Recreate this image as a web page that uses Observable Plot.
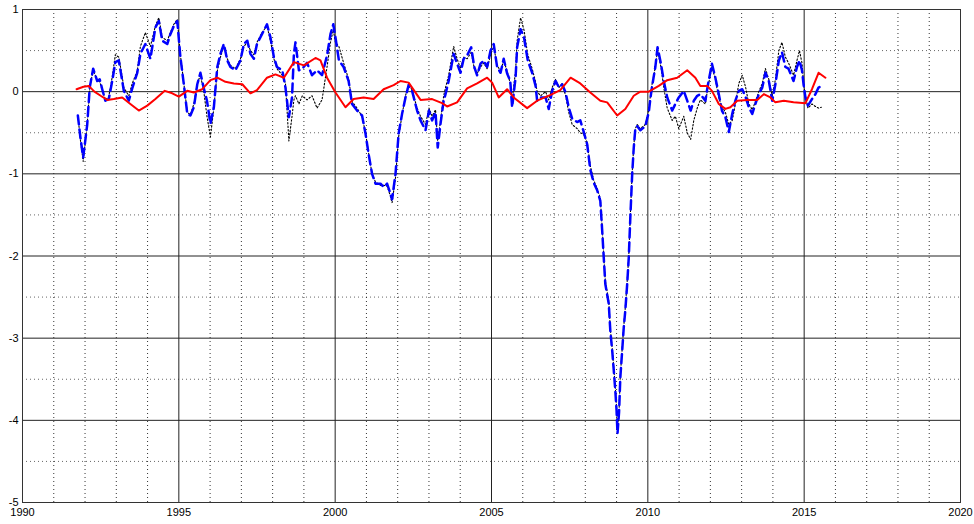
<!DOCTYPE html>
<html>
<head>
<meta charset="utf-8">
<script src="https://cdn.jsdelivr.net/npm/d3@7"></script>
<script src="https://cdn.jsdelivr.net/npm/@observablehq/plot@0.6"></script>
<style>
  html, body { margin: 0; padding: 0; background: #fff; }
  #chart svg { display: block; }
</style>
</head>
<body>
<div id="chart"></div>
<script>
// ---- Data (decimal year, value) ----
const redSeries = [[1991.73,0.03],[1991.95,0.06],[1992.12,0.07],[1992.3,0.0],[1992.5,-0.05],[1992.71,-0.10],[1992.92,-0.09],[1993.19,-0.07],[1993.45,-0.15],[1993.72,-0.23],[1993.99,-0.17],[1994.25,-0.09],[1994.55,0.01],[1994.79,-0.02],[1995.0,-0.06],[1995.27,0.01],[1995.48,-0.01],[1995.75,0.03],[1996.01,0.14],[1996.23,0.17],[1996.49,0.12],[1996.76,0.10],[1997.03,0.09],[1997.29,-0.02],[1997.5,0.02],[1997.82,0.17],[1998.09,0.21],[1998.36,0.17],[1998.68,0.36],[1999.0,0.32],[1999.37,0.41],[1999.53,0.38],[1999.74,0.17],[2000.01,-0.01],[2000.33,-0.19],[2000.59,-0.09],[2000.91,-0.07],[2001.23,-0.09],[2001.55,0.03],[2001.87,0.08],[2002.09,0.13],[2002.35,0.11],[2002.73,-0.10],[2003.1,-0.09],[2003.42,-0.14],[2003.58,-0.18],[2003.9,-0.13],[2004.22,0.04],[2004.54,0.10],[2004.86,0.17],[2005.02,0.11],[2005.23,-0.07],[2005.5,0.03],[2005.71,-0.07],[2006.14,-0.20],[2006.46,-0.11],[2006.89,-0.04],[2007.2,0.02],[2007.53,0.17],[2007.84,0.10],[2008.16,-0.01],[2008.48,-0.11],[2008.7,-0.13],[2009.02,-0.29],[2009.28,-0.21],[2009.55,-0.05],[2009.76,0.0],[2010.03,0.0],[2010.35,0.07],[2010.62,0.14],[2010.94,0.17],[2011.26,0.26],[2011.52,0.17],[2011.68,0.07],[2011.9,0.07],[2012.05,0.01],[2012.27,-0.15],[2012.48,-0.21],[2012.64,-0.19],[2012.86,-0.11],[2013.18,-0.10],[2013.5,-0.10],[2013.71,-0.03],[2013.92,-0.07],[2014.08,-0.13],[2014.35,-0.11],[2014.66,-0.13],[2015.04,-0.14],[2015.25,0.03],[2015.46,0.23],[2015.68,0.17]];

const blueSeries = [[1991.77,-0.29],[1991.85,-0.55],[1991.94,-0.80],[1992.0,-0.62],[1992.07,-0.40],[1992.15,0.05],[1992.26,0.28],[1992.39,0.13],[1992.47,0.15],[1992.55,0.03],[1992.65,-0.11],[1992.76,-0.09],[1992.87,0.13],[1992.97,0.36],[1993.08,0.38],[1993.19,0.13],[1993.24,0.01],[1993.4,-0.11],[1993.51,0.04],[1993.67,0.23],[1993.77,0.46],[1993.93,0.58],[1994.09,0.40],[1994.25,0.78],[1994.36,0.86],[1994.47,0.62],[1994.63,0.58],[1994.73,0.70],[1994.84,0.80],[1994.95,0.86],[1995.05,0.42],[1995.16,0.09],[1995.27,-0.27],[1995.37,-0.29],[1995.48,-0.19],[1995.59,0.09],[1995.69,0.23],[1995.8,0.04],[1995.9,-0.11],[1996.01,-0.39],[1996.12,-0.19],[1996.23,0.30],[1996.33,0.46],[1996.44,0.58],[1996.55,0.38],[1996.65,0.30],[1996.81,0.26],[1996.97,0.38],[1997.08,0.58],[1997.19,0.62],[1997.29,0.46],[1997.40,0.40],[1997.5,0.58],[1997.66,0.70],[1997.82,0.82],[1997.93,0.66],[1998.04,0.42],[1998.14,0.30],[1998.31,0.26],[1998.41,0.05],[1998.52,-0.31],[1998.62,-0.07],[1998.68,0.46],[1998.73,0.60],[1998.84,0.26],[1998.95,0.28],[1999.1,0.35],[1999.26,0.20],[1999.42,0.26],[1999.58,0.20],[1999.74,0.44],[1999.85,0.70],[1999.94,0.82],[2000.01,0.66],[2000.12,0.38],[2000.27,0.30],[2000.43,0.13],[2000.54,-0.15],[2000.7,-0.23],[2000.86,-0.29],[2000.97,-0.51],[2001.07,-0.76],[2001.18,-1.0],[2001.29,-1.12],[2001.45,-1.12],[2001.55,-1.16],[2001.66,-1.12],[2001.75,-1.22],[2001.82,-1.31],[2001.93,-1.0],[2002.03,-0.51],[2002.14,-0.27],[2002.25,-0.07],[2002.35,0.08],[2002.46,0.01],[2002.62,-0.23],[2002.73,-0.35],[2002.89,-0.47],[2003.0,-0.23],[2003.1,-0.35],[2003.21,-0.25],[2003.28,-0.68],[2003.37,-0.39],[2003.47,-0.11],[2003.53,-0.03],[2003.63,0.13],[2003.79,0.46],[2003.9,0.34],[2004.01,0.23],[2004.11,0.40],[2004.22,0.44],[2004.35,0.54],[2004.45,0.30],[2004.54,0.20],[2004.65,0.34],[2004.75,0.38],[2004.86,0.30],[2004.97,0.50],[2005.07,0.58],[2005.18,0.30],[2005.29,0.23],[2005.39,0.40],[2005.5,0.22],[2005.6,0.13],[2005.66,-0.19],[2005.77,0.17],[2005.82,0.54],[2005.93,0.76],[2006.04,0.66],[2006.16,0.38],[2006.3,0.23],[2006.41,0.07],[2006.46,-0.11],[2006.57,-0.07],[2006.73,-0.07],[2006.83,-0.21],[2006.94,0.01],[2007.05,0.13],[2007.16,0.05],[2007.26,0.09],[2007.37,-0.01],[2007.47,-0.19],[2007.58,-0.33],[2007.74,-0.37],[2007.84,-0.35],[2007.95,-0.49],[2008.06,-0.64],[2008.16,-0.95],[2008.27,-1.11],[2008.38,-1.20],[2008.48,-1.33],[2008.54,-1.69],[2008.59,-2.02],[2008.64,-2.34],[2008.75,-2.58],[2008.8,-2.91],[2008.86,-3.15],[2008.91,-3.39],[2008.96,-3.64],[2009.0,-3.88],[2009.03,-4.16],[2009.08,-3.9],[2009.12,-3.48],[2009.18,-3.15],[2009.23,-2.87],[2009.28,-2.66],[2009.34,-2.34],[2009.39,-2.02],[2009.44,-1.53],[2009.5,-1.0],[2009.55,-0.68],[2009.6,-0.45],[2009.66,-0.42],[2009.76,-0.47],[2009.92,-0.42],[2010.03,-0.25],[2010.08,-0.09],[2010.13,0.05],[2010.24,0.30],[2010.31,0.54],[2010.42,0.34],[2010.51,0.13],[2010.62,-0.07],[2010.78,-0.23],[2010.88,-0.15],[2010.99,-0.07],[2011.15,0.01],[2011.26,-0.11],[2011.37,-0.23],[2011.47,-0.11],[2011.58,-0.05],[2011.68,-0.03],[2011.84,-0.11],[2011.92,0.08],[2012.05,0.34],[2012.16,0.17],[2012.27,-0.03],[2012.37,-0.23],[2012.48,-0.31],[2012.59,-0.49],[2012.7,-0.27],[2012.8,-0.11],[2012.91,0.01],[2013.02,0.03],[2013.13,-0.07],[2013.23,-0.19],[2013.34,-0.27],[2013.44,-0.15],[2013.55,-0.03],[2013.66,0.05],[2013.76,0.23],[2013.87,0.13],[2013.98,-0.11],[2014.08,0.09],[2014.19,0.38],[2014.29,0.48],[2014.4,0.30],[2014.5,0.28],[2014.66,0.13],[2014.77,0.30],[2014.85,0.38],[2014.93,0.26],[2014.98,0.09],[2015.04,-0.07],[2015.12,-0.17],[2015.25,-0.09],[2015.36,-0.03],[2015.46,0.05],[2015.57,0.07]];

const dottedSeries = [[1991.77,-0.29],[1991.85,-0.58],[1991.94,-0.85],[1992.0,-0.64],[1992.07,-0.40],[1992.15,0.05],[1992.26,0.26],[1992.39,0.14],[1992.47,0.12],[1992.55,0.02],[1992.65,-0.10],[1992.76,-0.06],[1992.87,0.18],[1992.97,0.45],[1993.08,0.42],[1993.19,0.18],[1993.24,0.05],[1993.4,-0.05],[1993.51,0.10],[1993.67,0.25],[1993.77,0.55],[1993.93,0.72],[1994.09,0.55],[1994.25,0.80],[1994.36,0.90],[1994.47,0.66],[1994.63,0.62],[1994.73,0.72],[1994.84,0.82],[1994.95,0.88],[1995.05,0.45],[1995.16,0.10],[1995.27,-0.25],[1995.37,-0.28],[1995.48,-0.15],[1995.59,0.10],[1995.69,0.20],[1995.8,0.0],[1995.9,-0.30],[1996.01,-0.55],[1996.12,-0.20],[1996.23,0.25],[1996.33,0.42],[1996.44,0.55],[1996.55,0.40],[1996.65,0.32],[1996.81,0.28],[1996.97,0.40],[1997.08,0.55],[1997.19,0.60],[1997.29,0.50],[1997.40,0.45],[1997.5,0.60],[1997.66,0.72],[1997.82,0.80],[1997.93,0.62],[1998.04,0.40],[1998.14,0.28],[1998.31,0.20],[1998.41,0.10],[1998.52,-0.60],[1998.62,-0.30],[1998.68,-0.10],[1998.73,-0.05],[1998.84,-0.15],[1998.95,-0.05],[1999.1,-0.10],[1999.26,-0.05],[1999.42,-0.20],[1999.58,-0.10],[1999.74,0.30],[1999.85,0.60],[1999.94,0.75],[2000.01,0.60],[2000.12,0.55],[2000.27,0.35],[2000.43,0.15],[2000.54,-0.12],[2000.7,-0.20],[2000.86,-0.30],[2000.97,-0.50],[2001.07,-0.75],[2001.18,-1.0],[2001.29,-1.10],[2001.45,-1.14],[2001.55,-1.14],[2001.66,-1.15],[2001.75,-1.25],[2001.82,-1.35],[2001.93,-1.05],[2002.03,-0.55],[2002.14,-0.28],[2002.25,-0.05],[2002.35,0.10],[2002.46,0.02],[2002.62,-0.20],[2002.73,-0.30],[2002.89,-0.40],[2003.0,-0.20],[2003.1,-0.30],[2003.21,-0.22],[2003.28,-0.60],[2003.37,-0.35],[2003.47,-0.05],[2003.53,0.05],[2003.63,0.20],[2003.79,0.55],[2003.9,0.40],[2004.01,0.28],[2004.11,0.42],[2004.22,0.40],[2004.35,0.48],[2004.45,0.28],[2004.54,0.22],[2004.65,0.30],[2004.75,0.35],[2004.86,0.28],[2004.97,0.45],[2005.07,0.55],[2005.18,0.32],[2005.29,0.25],[2005.39,0.38],[2005.5,0.25],[2005.6,0.10],[2005.66,-0.10],[2005.77,0.25],[2005.82,0.62],[2005.93,0.90],[2006.04,0.75],[2006.16,0.45],[2006.3,0.28],[2006.41,0.12],[2006.46,0.0],[2006.57,-0.05],[2006.73,0.0],[2006.83,-0.10],[2006.94,0.05],[2007.05,0.15],[2007.16,0.05],[2007.26,0.10],[2007.37,-0.05],[2007.47,-0.25],[2007.58,-0.40],[2007.74,-0.45],[2007.84,-0.50],[2007.95,-0.52],[2008.06,-0.62],[2008.16,-0.90],[2008.27,-1.08],[2008.38,-1.18],[2008.48,-1.30],[2008.54,-1.65],[2008.59,-2.0],[2008.64,-2.30],[2008.75,-2.55],[2008.8,-2.88],[2008.86,-3.12],[2008.91,-3.36],[2008.96,-3.60],[2009.0,-3.85],[2009.03,-4.12],[2009.08,-3.88],[2009.12,-3.45],[2009.18,-3.12],[2009.23,-2.85],[2009.28,-2.62],[2009.34,-2.30],[2009.39,-2.0],[2009.44,-1.50],[2009.5,-0.98],[2009.55,-0.66],[2009.6,-0.45],[2009.66,-0.40],[2009.76,-0.45],[2009.92,-0.40],[2010.03,-0.22],[2010.08,-0.05],[2010.13,0.08],[2010.24,0.30],[2010.31,0.50],[2010.42,0.30],[2010.51,0.05],[2010.62,-0.20],[2010.78,-0.35],[2010.88,-0.30],[2010.99,-0.45],[2011.15,-0.30],[2011.26,-0.50],[2011.37,-0.58],[2011.47,-0.35],[2011.58,-0.20],[2011.68,-0.10],[2011.84,-0.15],[2011.92,0.05],[2012.05,0.30],[2012.16,0.15],[2012.27,-0.08],[2012.37,-0.18],[2012.48,-0.25],[2012.59,-0.40],[2012.7,-0.35],[2012.8,-0.15],[2012.91,0.10],[2013.02,0.20],[2013.13,0.05],[2013.23,-0.15],[2013.34,-0.22],[2013.44,-0.12],[2013.55,0.0],[2013.66,0.10],[2013.76,0.28],[2013.87,0.15],[2013.98,-0.05],[2014.08,0.15],[2014.19,0.50],[2014.29,0.60],[2014.4,0.42],[2014.5,0.35],[2014.66,0.20],[2014.77,0.38],[2014.85,0.50],[2014.93,0.35],[2014.98,0.10],[2015.04,-0.05],[2015.12,-0.20],[2015.25,-0.15],[2015.36,-0.18],[2015.46,-0.20],[2015.55,-0.19]];

const xTickLabels = [1990, 1995, 2000, 2005, 2010, 2015, 2020];
const yTickLabels = [-5, -4, -3, -2, -1, 0, 1];
const xMinorGrid = [1991,1992,1993,1994,1996,1997,1998,1999,2001,2002,2003,2004,2006,2007,2008,2009,2011,2012,2013,2014,2016,2017,2018,2019];
const yMinorGrid = [-4.5, -3.5, -2.5, -1.5, -0.5, 0.5];
const xMajorGrid = [1995, 2000, 2005, 2010, 2015];
const yMajorGrid = [-4, -3, -2, -1, 0];

const chart = Plot.plot({
  width: 974,
  height: 524,
  marginLeft: 22,
  marginRight: 14,
  marginTop: 9,
  marginBottom: 22,
  style: { fontFamily: "'Liberation Sans', Arial, sans-serif", fontSize: "11px", color: "#000", background: "#fff" },
  x: { domain: [1990, 2020] },
  y: { domain: [-5, 1] },
  marks: [
    Plot.ruleX(xMinorGrid, { stroke: "#000", strokeOpacity: 0.8, strokeDasharray: "1,3" }),
    Plot.ruleY(yMinorGrid, { stroke: "#000", strokeOpacity: 0.6, strokeDasharray: "1,3" }),
    Plot.ruleX(xMajorGrid, { stroke: "#222" }),
    Plot.ruleY(yMajorGrid, { stroke: "#222" }),
    Plot.frame({ stroke: "#333" }),
    Plot.axisX({ ticks: xTickLabels, tickSize: 0, tickPadding: 6, tickFormat: d => String(d), label: null, fill: "#000" }),
    Plot.axisY({ ticks: yTickLabels, tickSize: 0, tickPadding: 4, tickFormat: d => String(d), label: null, fill: "#000" }),
    Plot.line(dottedSeries, { x: d => d[0], y: d => d[1], stroke: "#000", strokeWidth: 1.1, strokeDasharray: "1.5,2", curve: "linear" }),
    Plot.line(blueSeries, { x: d => d[0], y: d => d[1], stroke: "#0000ff", strokeWidth: 2.5, strokeDasharray: "9,5", curve: "linear" }),
    Plot.line(redSeries, { x: d => d[0], y: d => d[1], stroke: "#ff0000", strokeWidth: 2, curve: "linear" })
  ]
});
document.getElementById("chart").appendChild(chart);
</script>
</body>
</html>
